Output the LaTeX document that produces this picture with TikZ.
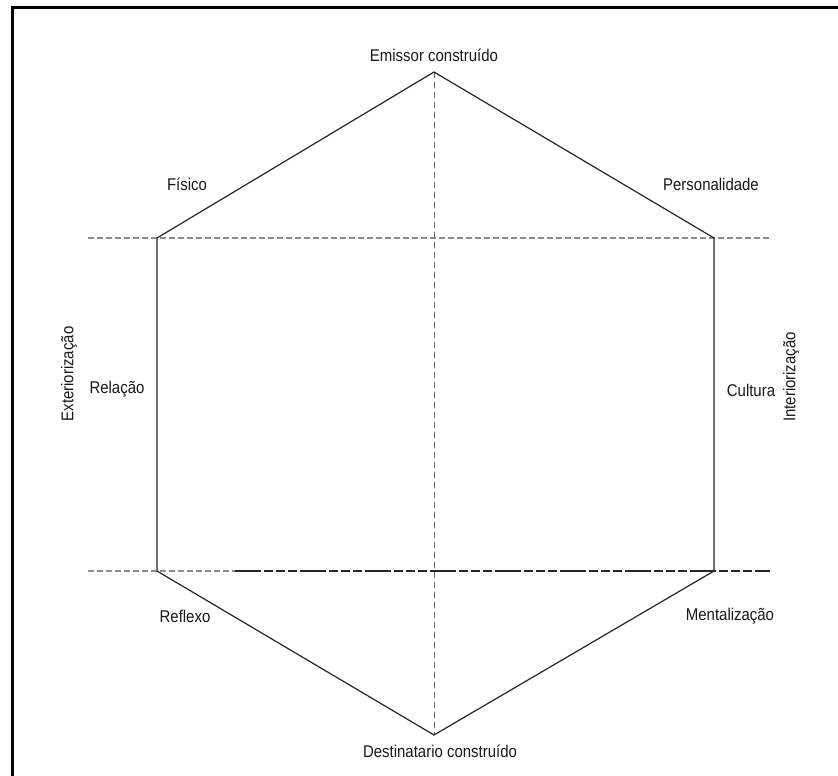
\documentclass[tikz,border=0pt]{standalone}
\usepackage{fontspec}
\setmainfont{Liberation Sans}[FakeStretch=0.88]
\begin{document}
\begin{tikzpicture}[x=1pt,y=-1pt,
  edge/.style={draw=black!85,line width=1.2pt},
  guide/.style={draw=black!45,line width=1.3pt,dash pattern=on 6pt off 3pt},
  axis/.style={draw=black!60,line width=1pt,dash pattern=on 6pt off 4pt},
  mixed/.style={draw=black!85,line width=1.2pt,dash pattern=on 26pt off 3pt on 9pt off 3pt on 9pt off 3pt on 9pt off 3pt},
  lbl/.style={font=\fontsize{17}{19}\selectfont,inner sep=0pt,text=black!90}]
\useasboundingbox (0,0) rectangle (838,776);
\fill[white] (0,0) rectangle (838,776);
% outer frame (continues past the page edge)
\draw[line width=3pt] (12,860) -- (12,8) -- (900,8);

% hexagon corners
\coordinate (T) at (434,72);
\coordinate (UL) at (157,238);
\coordinate (UR) at (714,238);
\coordinate (LL) at (157,571);
\coordinate (LR) at (714,571);
\coordinate (B) at (434,735);
\coordinate (gUL) at (88,238);
\coordinate (gUR) at (770,238);
\coordinate (gLL) at (88,571);
\coordinate (gLM) at (235,571);
\coordinate (gLR) at (770,571);

% guide lines
\draw[guide] (gUL) -- (gUR);
\draw[guide] (gLL) -- (gLM);
\draw[mixed] (gLM) -- (gLR);
\draw[axis] (T) -- (B);

% hexagon
\draw[edge,line join=miter] (T) -- (UR) -- (LR) -- (B) -- (LL) -- (UL) -- cycle;

% labels
\node[lbl] (emissor) at (434,55) {Emissor construído};
\node[lbl] (destin) at (440,751) {Destinatario construído};
\node[lbl] (fisico) at (187,184) {Físico};
\node[lbl] (person) at (711,184) {Personalidade};
\node[lbl] (relacao) at (117,389) {Relação};
\node[lbl] (cultura) at (751,390) {Cultura};
\node[lbl] (reflexo) at (185,616) {Reflexo};
\node[lbl] (mental) at (730,616) {Mentalização};
\node[lbl,rotate=90] (exter) at (69,374) {Exteriorização};
\node[lbl,rotate=90] (inter) at (791,377) {Interiorização};
\end{tikzpicture}
\end{document}
